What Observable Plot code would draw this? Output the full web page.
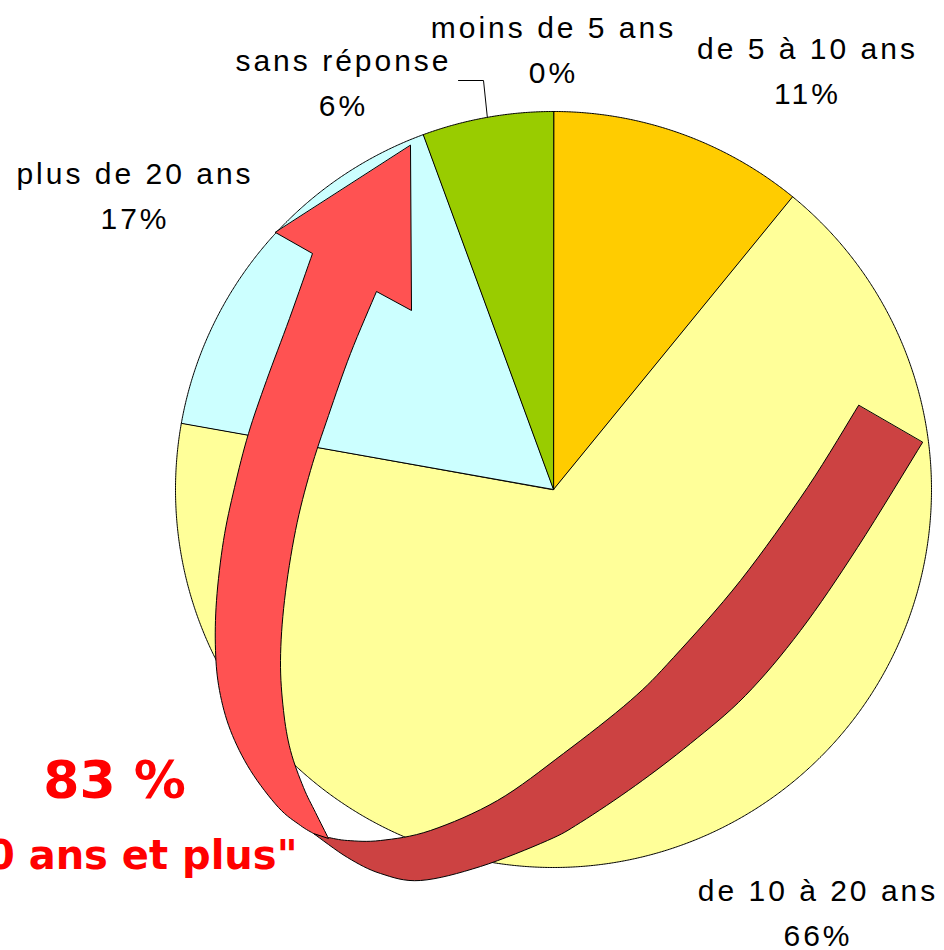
<!DOCTYPE html>
<html>
<head>
<meta charset="utf-8">
<script src="https://cdn.jsdelivr.net/npm/d3@7"></script>
<script src="https://cdn.jsdelivr.net/npm/@observablehq/plot@0.6"></script>
<style>
  html, body { margin: 0; padding: 0; background: #ffffff; }
  #chart svg { display: block; }
</style>
</head>
<body>
<div id="chart"></div>
<script>
// ---------------- data ----------------
const categories = ["moins de 5 ans", "de 5 à 10 ans", "de 10 à 20 ans", "plus de 20 ans", "sans réponse"];
const values = [0, 10.9, 66.9, 16.6, 5.6];          // share of the pie
const percentLabels = ["0%", "11%", "66%", "17%", "6%"];
const sliceColors = ["#FF9900", "#FFCC00", "#FFFF99", "#CCFFFF", "#99CC00"];
const totalLabel = "83 %";
const totalCaption = "\"10 ans et plus\"";

// ---------------- layout (pixels) ----------------
const W = 944, H = 950;
const CX = 553, CY = 489, R = 378;                   // pie centre and radius
const labelAnchors = [[553, 82], [807, 103], [817.5, 945], [134.5, 228], [343, 115]]; // centre x, last baseline
const leaderStart = [[458, 80], [483, 80]];          // "sans réponse" leader
const U = ([px, py]) => [(px - CX) / R, (CY - py) / R];

// decorative curved arrow (outline in pixels)
const lightHead = [[410, 145], [411, 310]];
const lightRight = [[376, 291], [350, 353], [328, 415], [310, 470], [295, 530], [284, 600], [280, 660], [283, 710], [290, 750], [303, 787], [315, 812], [328, 838]];
const lightLeft = [[313, 833], [300, 825], [278, 807], [250, 770], [230, 730], [219, 690], [215, 650], [216, 600], [223, 540], [234, 487], [248, 433], [266, 380], [289, 318], [312, 253]];
const lightWing = [[275, 232]];
const darkInner = [[858, 405], [807, 487], [740, 580], [673, 657], [630, 700], [563, 753], [497, 800], [430, 830], [380, 840], [347, 840], [328, 837]];
const darkOuter = [[922, 442], [857, 547], [800, 630], [745, 695], [690, 743], [635, 785], [580, 822], [547, 840], [480, 866], [420, 880], [380, 873], [347, 857], [313, 833]];

function smooth(pts, n = 8) {
  const out = [];
  for (let i = 0; i < pts.length - 1; i++) {
    const p0 = pts[Math.max(i - 1, 0)], p1 = pts[i], p2 = pts[i + 1], p3 = pts[Math.min(i + 2, pts.length - 1)];
    for (let k = 0; k < n; k++) {
      const t = k / n, t2 = t * t, t3 = t2 * t;
      out.push([0, 1].map(j => 0.5 * ((2 * p1[j]) + (-p0[j] + p2[j]) * t +
        (2 * p0[j] - 5 * p1[j] + 4 * p2[j] - p3[j]) * t2 +
        (-p0[j] + 3 * p1[j] - 3 * p2[j] + p3[j]) * t3)));
    }
  }
  out.push(pts[pts.length - 1]);
  return out;
}

const lightArrow = [...lightHead, ...smooth(lightRight), ...smooth(lightLeft), ...lightWing].map(U);
const darkArrow = [...smooth(darkInner), ...smooth(darkOuter).reverse()].map(U);

// ---------------- pie geometry ----------------
const arcs = d3.pie().sort(null).value(d => d)(values);
const slices = categories.map((c, i) => ({category: c, color: sliceColors[i], a0: arcs[i].startAngle, a1: arcs[i].endAngle}))
  .filter((d, i) => values[i] > 0);
function slicePolygon(s) {
  const pts = [[0, 0]];
  const n = Math.max(2, Math.ceil((s.a1 - s.a0) / (Math.PI / 720)));
  for (let k = 0; k <= n; k++) {
    const a = s.a0 + (s.a1 - s.a0) * k / n;
    pts.push([Math.sin(a), Math.cos(a)]);
  }
  return pts;
}

const labels = categories.map((c, i) => ({text: c + "\n" + percentLabels[i], pos: U(labelAnchors[i])}));
const srIndex = categories.indexOf("sans réponse");
const midSR = (arcs[srIndex].startAngle + arcs[srIndex].endAngle) / 2;
const leader = [...leaderStart.map(U), [Math.sin(midSR), Math.cos(midSR)]];

const font = "'Liberation Sans', Arial, sans-serif";
const boldFont = "'DejaVu Sans', 'Liberation Sans', Arial, sans-serif";

const svg = Plot.plot({
  width: W,
  height: H,
  margin: 0,
  x: {domain: [-CX / R, (W - CX) / R], axis: null},
  y: {domain: [(CY - H) / R, CY / R], axis: null},
  style: {background: "#ffffff", fontFamily: font},
  marks: [
    ...slices.map(s => Plot.line(slicePolygon(s), {
      x: d => d[0], y: d => d[1], curve: "linear-closed",
      fill: s.color, stroke: "#000000", strokeWidth: 1, strokeLinejoin: "miter"
    })),
    Plot.line(darkArrow, {x: d => d[0], y: d => d[1], curve: "linear-closed", fill: "#CC4242", stroke: "#000000", strokeWidth: 1, strokeLinejoin: "miter"}),
    Plot.line(lightArrow, {x: d => d[0], y: d => d[1], curve: "linear-closed", fill: "#FF5252", stroke: "#000000", strokeWidth: 1, strokeLinejoin: "miter"}),
    Plot.line(leader, {x: d => d[0], y: d => d[1], stroke: "#000000", strokeWidth: 1, strokeLinejoin: "miter"}),
    Plot.text(labels, {
      x: d => d.pos[0], y: d => d.pos[1], text: "text",
      fontSize: 30, lineHeight: 1.5, lineAnchor: "bottom", textAnchor: "middle",
      fill: "#000000", fontFamily: font
    }),
    Plot.text([totalLabel], {
      x: () => U([114, 797])[0], y: () => U([114, 797])[1], text: d => d,
      fontSize: 52, fontWeight: "bold", lineAnchor: "bottom", textAnchor: "middle",
      fill: "#FF0000", fontFamily: boldFont
    }),
    Plot.text([totalCaption], {
      x: () => U([297, 868])[0], y: () => U([297, 868])[1], text: d => d,
      fontSize: 40, fontWeight: "bold", lineAnchor: "bottom", textAnchor: "end",
      fill: "#FF0000", fontFamily: boldFont
    })
  ]
});

d3.select(svg).selectAll("text").attr("letter-spacing", function () {
  return (this.textContent === totalLabel || this.textContent === totalCaption) ? null : "3px";
});

document.getElementById("chart").appendChild(svg);
</script>
</body>
</html>
